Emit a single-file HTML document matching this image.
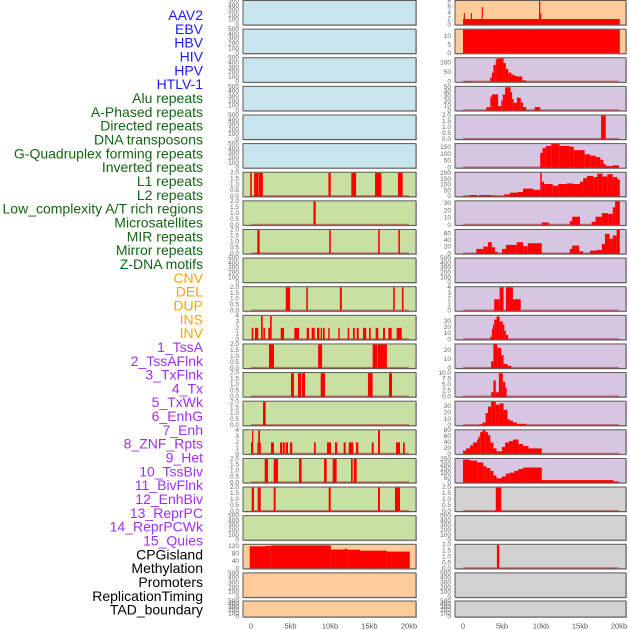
<!DOCTYPE html>
<html><head><meta charset="utf-8"><style>
html,body{margin:0;padding:0;background:#fff;}
svg{display:block;font-family:"Liberation Sans",sans-serif;}
</style></head><body>
<svg id="chart" width="630" height="630" viewBox="0 0 630 630" xmlns="http://www.w3.org/2000/svg">
<g id="labels"></g>
<g id="panels"></g>
<g id="xaxes"></g>
</svg>
<script>
const featureLabels = ["AAV2","EBV","HBV","HIV","HPV","HTLV-1","Alu repeats","A-Phased repeats","Directed repeats","DNA transposons","G-Quadruplex forming repeats","Inverted repeats","L1 repeats","L2 repeats","Low_complexity A/T rich regions","Microsatellites","MIR repeats","Mirror repeats","Z-DNA motifs","CNV","DEL","DUP","INS","INV","1_TssA","2_TssAFlnk","3_TxFlnk","4_Tx","5_TxWk","6_EnhG","7_Enh","8_ZNF_Rpts","9_Het","10_TssBiv","11_BivFlnk","12_EnhBiv","13_ReprPC","14_ReprPCWk","15_Quies","CPGisland","Methylation","Promoters","ReplicationTiming","TAD_boundary"];
const labelColors = ["#1a1aff","#1a1aff","#1a1aff","#1a1aff","#1a1aff","#1a1aff","#116611","#116611","#116611","#116611","#116611","#116611","#116611","#116611","#116611","#116611","#116611","#116611","#116611","#ffa500","#ffa500","#ffa500","#ffa500","#ffa500","#a030f0","#a030f0","#a030f0","#a030f0","#a030f0","#a030f0","#a030f0","#a030f0","#a030f0","#a030f0","#a030f0","#a030f0","#a030f0","#a030f0","#a030f0","#000","#000","#000","#000","#000"];
const xTicksKb = [0,5,10,15,20];
const xTickLabels = ["0","5kb","10kb","15kb","20kb"];

// segments: [startKb, endKb, value]
const L6 = [[-0.1,0.1,2],[0.4,0.9,2],[0.95,1.5,2],[9.8,10.1,2],[12.7,13.3,2],[15.7,16.5,2],[18.6,19.2,2]];
const L7 = [[7.9,8.2,2]];
const L8 = [[0.8,1.1,2],[9.9,10.1,2],[16.1,16.3,2],[18.65,18.85,2]];
const L10 = [[4.4,4.95,2],[7.0,7.2,2],[11.25,11.5,2],[18.0,18.2,2],[19.1,19.3,2]];
const L11 = [[0.09,0.29,2],[0.5,0.92,2],[1.27,1.48,4],[1.56,1.77,2],[2.19,2.41,2],[2.41,2.62,4],[3.76,4.18,2],[5.48,6.08,2],[7.05,7.34,2],[7.68,8.06,2],[8.35,8.65,2],[8.82,8.99,2],[9.11,9.33,2],[9.78,9.96,2],[11.05,11.23,2],[12.24,12.44,2],[12.91,13.13,2],[13.38,13.63,2],[14.18,14.59,2],[14.94,15.15,2],[15.78,16.11,2],[16.71,16.96,2],[17.38,17.81,2],[18.44,19.08,2]];
const L12 = [[2.28,2.91,2],[8.5,9.0,2],[15.4,16.0,2],[16.05,17.2,2]];
const L13 = [[5.06,5.44,2],[5.95,6.37,2],[6.46,6.84,2],[8.82,9.37,2],[14.8,15.4,2],[17.47,17.85,2]];
const L14 = [[1.52,1.86,2]];
const L15 = [[0,0.13,2],[0.13,0.29,4],[0.8,0.92,2],[0.92,1.14,4],[1.14,1.23,2],[2.53,2.91,2],[3.67,3.92,2],[4.0,4.27,2],[4.39,4.68,2],[4.94,5.23,2],[7.97,8.19,2],[9.62,10.13,2],[10.63,10.92,2],[11.73,11.99,2],[12.37,12.95,2],[13.29,13.58,2],[15.28,15.53,2],[16.08,16.33,4],[18.35,18.86,2],[19.24,19.46,2]];
const L16 = [[1.73,2.15,2],[2.87,3.42,2],[6.08,6.41,2],[9.24,9.58,2],[10.34,10.84,2],[12.66,12.87,2],[13.0,13.38,2]];
const L17 = [[0.09,0.38,2],[0.85,1.23,2],[2.87,3.12,2],[9.83,10.09,2],[16.08,16.33,2],[18.23,18.86,2]];
const L19 = [[-0.16,1.77,120],[1.77,2.5,122],[2.5,10.1,125],[10.1,11.9,103],[11.9,12.2,107],[12.2,13.8,102],[13.8,17.2,97],[17.2,20.1,92]];

const R0 = [[0,20.1,2],[0.1,0.25,4],[1.0,1.15,4],[2.4,2.55,6],[9.75,9.9,8],[9.9,10.05,4]];
const R1 = [[0,20.1,14.2]];
const R2 = [[0,1.1,5],[3.2,3.5,5],[3.5,3.7,25],[3.7,3.9,50],[3.9,4.2,90],[4.2,4.4,120],[4.4,5.2,125],[5.2,5.5,100],[5.5,5.8,70],[5.8,6.2,50],[6.2,6.6,40],[6.6,7.0,32],[7.0,7.6,30],[7.6,8.1,10]];
const R3 = [[3.0,3.5,8],[3.5,3.7,30],[3.7,4.5,35],[4.5,4.9,10],[4.9,5.1,22],[5.1,5.4,35],[5.4,6.1,50],[6.1,6.3,40],[6.3,6.5,25],[6.5,6.9,17],[6.9,7.4,28],[7.4,7.7,18],[7.7,8.1,8],[9.2,9.9,8]];
const R4 = [[17.7,18.3,2]];
const R5 = [[9.9,10.2,110],[10.2,10.6,145],[10.6,11.3,160],[11.3,12.4,175],[12.4,13.7,160],[13.7,14.2,155],[14.2,15.6,130],[15.6,16.3,100],[16.3,17.0,90],[17.0,17.6,80],[17.6,18.0,60],[18.0,18.3,30],[18.3,19.2,15],[19.2,20.0,20]];
const R6 = [[0,0.9,5],[0.8,1.8,15],[2.1,3.7,15],[3.9,4.3,10],[5.3,6.0,20],[6.0,7.0,35],[7.0,7.7,40],[7.7,9.0,70],[9.0,9.9,60],[9.9,10.1,210],[10.1,10.4,130],[10.4,11.5,110],[11.5,12.2,95],[12.2,13.3,110],[13.3,14.1,115],[14.1,15.0,110],[15.0,15.4,130],[15.4,15.9,160],[15.9,16.7,180],[16.7,17.2,170],[17.2,17.9,200],[17.9,18.5,175],[18.5,19.2,195],[19.2,19.8,170],[19.8,20.1,150]];
const R7 = [[10.1,11.0,4],[13.7,14.0,6],[14.0,15.0,12],[16.5,17.0,5],[17.0,17.8,12],[17.8,18.6,17],[18.6,19.2,16],[19.2,19.5,25],[19.5,20.1,34]];
const R8 = [[1.7,2.6,15],[2.6,3.2,22],[3.2,3.7,35],[3.7,4.1,20],[4.1,4.4,7],[5.0,5.5,15],[5.5,6.9,27],[6.9,7.7,35],[7.7,8.3,23],[8.3,10.1,32],[13.7,14.0,15],[14.0,14.4,25],[14.4,14.9,25],[14.9,15.4,8],[16.3,17.2,10],[17.2,17.8,12],[17.8,18.2,30],[18.2,18.8,60],[18.8,19.2,45],[19.2,19.7,55],[19.7,20.1,72]];
const R10 = [[4.0,4.7,2],[4.7,5.2,4],[5.5,6.4,4],[6.4,7.4,2]];
const R11 = [[3.5,3.7,5],[3.7,3.85,18],[3.85,4.0,25],[4.0,4.3,33],[4.3,4.7,38],[4.7,5.1,30],[5.1,5.3,25],[5.3,5.5,15],[5.5,5.8,8]];
const R12 = [[3.6,3.9,8],[3.9,4.4,27],[4.4,4.9,23],[4.9,5.2,15],[5.2,5.7,5],[5.7,6.2,3]];
const R13 = [[3.6,3.9,2],[3.9,4.2,7],[4.2,4.6,2],[4.6,5.1,10],[5.1,5.4,6.5],[5.4,5.6,4]];
const R14 = [[2.1,2.5,2],[2.5,2.9,5],[2.9,3.2,20],[3.2,3.6,30],[3.6,4.2,38],[4.2,4.7,33],[4.7,5.2,35],[5.2,5.7,25],[5.7,6.0,10],[6.0,6.4,8],[6.4,6.9,5],[6.9,8.1,3]];
const R15 = [[0,0.4,12],[0.4,0.9,20],[0.9,1.3,30],[1.3,1.8,40],[1.8,2.0,50],[2.0,2.2,60],[2.2,2.5,75],[2.5,2.9,82],[2.9,3.2,75],[3.2,3.5,65],[3.5,3.9,40],[3.9,4.3,20],[4.3,5.0,10],[5.0,5.4,25],[5.4,5.9,40],[5.9,6.4,45],[6.4,7.1,50],[7.1,7.7,35],[7.7,8.4,28],[8.4,10.1,20]];
const R16 = [[0,0.9,250],[0.9,1.8,240],[1.8,2.6,220],[2.6,3.0,180],[3.0,3.5,160],[3.5,3.9,130],[3.9,4.3,80],[4.3,5.0,50],[5.0,5.5,70],[5.5,6.0,100],[6.0,6.6,110],[6.6,7.1,130],[7.1,7.7,150],[7.7,10.1,165],[10.1,19.3,30],[19.3,20.0,15]];
const R17 = [[4.2,4.9,2]];
const R19 = [[4.35,4.65,2]];

const BLUE="#c8e4ec", GREEN="#c8e0a2", ORANGE="#fecc9a", PURPLE="#d6c6e2", GRAY="#d2d2d2";
const emptyTicks = ["0","100","200","300","400","500"];
const t02 = ["0.0","0.5","1.0","1.5","2.0"];
const t04 = ["0","1","2","3","4"];
// per-row config: [bg, yMax, tickValues, tickLabels, segments, baseline]
const leftRows = [
 [BLUE,510,[0,100,200,300,400,500],emptyTicks,[],false],
 [BLUE,510,[0,100,200,300,400,500],emptyTicks,[],false],
 [BLUE,510,[0,100,200,300,400,500],emptyTicks,[],false],
 [BLUE,510,[0,100,200,300,400,500],emptyTicks,[],false],
 [BLUE,510,[0,100,200,300,400,500],emptyTicks,[],false],
 [BLUE,510,[0,100,200,300,400,500],emptyTicks,[],false],
 [GREEN,2.05,[0,0.5,1,1.5,2],t02,L6,true],
 [GREEN,2.05,[0,0.5,1,1.5,2],t02,L7,true],
 [GREEN,2.05,[0,0.5,1,1.5,2],t02,L8,true],
 [GREEN,510,[0,100,200,300,400,500],emptyTicks,[],false],
 [GREEN,2.05,[0,0.5,1,1.5,2],t02,L10,true],
 [GREEN,4.1,[0,1,2,3,4],t04,L11,true],
 [GREEN,2.05,[0,0.5,1,1.5,2],t02,L12,true],
 [GREEN,2.05,[0,0.5,1,1.5,2],t02,L13,true],
 [GREEN,2.05,[0,0.5,1,1.5,2],t02,L14,true],
 [GREEN,4.1,[0,1,2,3,4],t04,L15,true],
 [GREEN,2.05,[0,0.5,1,1.5,2],t02,L16,true],
 [GREEN,2.05,[0,0.5,1,1.5,2],t02,L17,true],
 [GREEN,510,[0,100,200,300,400,500],emptyTicks,[],false],
 [ORANGE,131,[0,40,80,120],["0","40","80","120"],L19,false],
 [ORANGE,510,[0,100,200,300,400,500],emptyTicks,[],false],
 [ORANGE,510,[0,100,200,300,400,500],emptyTicks,[],false]
];
const rightRows = [
 [ORANGE,8.2,[0,2,4,6,8],["0","2","4","6","8"],R0,false],
 [ORANGE,14.2,[0,5,10],["0","5","10"],R1,false],
 [PURPLE,128,[0,50,100],["0","50","100"],R2,true],
 [PURPLE,52,[0,10,20,30,40,50],["0","10","20","30","40","50"],R3,true],
 [PURPLE,2.05,[0,0.5,1,1.5,2],t02,R4,true],
 [PURPLE,177,[0,50,100,150],["0","50","100","150"],R5,true],
 [PURPLE,212,[0,50,100,150,200],["0","50","100","150","200"],R6,true],
 [PURPLE,34,[0,10,20,30],["0","10","20","30"],R7,true],
 [PURPLE,73,[0,20,40,60],["0","20","40","60"],R8,true],
 [PURPLE,510,[0,100,200,300,400,500],emptyTicks,[],false],
 [PURPLE,4.1,[0,1,2,3,4],t04,R10,true],
 [PURPLE,40,[0,10,20,30],["0","10","20","30"],R11,true],
 [PURPLE,27.5,[0,10,20],["0","10","20"],R12,true],
 [PURPLE,10.3,[0,2.5,5,7.5,10],["0.0","2.5","5.0","7.5","10.0"],R13,true],
 [PURPLE,38.5,[0,10,20,30],["0","10","20","30"],R14,true],
 [PURPLE,83,[0,20,40,60,80],["0","20","40","60","80"],R15,true],
 [PURPLE,263,[0,50,100,150,200,250],["0","50","100","150","200","250"],R16,true],
 [GRAY,2.05,[0,0.5,1,1.5,2],t02,R17,true],
 [GRAY,510,[0,100,200,300,400,500],emptyTicks,[],false],
 [GRAY,2.05,[0,0.5,1,1.5,2],t02,R19,true],
 [GRAY,510,[0,100,200,300,400,500],emptyTicks,[],false],
 [GRAY,510,[0,100,200,300,400,500],emptyTicks,[],false]
];

const NS="http://www.w3.org/2000/svg";
function mk(tag, attrs, parent){const e=document.createElementNS(NS,tag);for(const k in attrs)e.setAttribute(k,attrs[k]);parent.appendChild(e);return e;}
const sides = [
 {rows:leftRows, x0:243, x1:416, kb0:251, kbScale:7.9, tickX:239, name:'left'},
 {rows:rightRows, x0:455, x1:626, kb0:463, kbScale:7.8, tickX:451, name:'right'}
];
function rowTop(i){return i<21 ? 0.5+i*28.62 : 601;}
function rowH(i){return i<21 ? 24.5 : 16;}

const lg=document.getElementById('labels');
featureLabels.forEach((t,i)=>{
  const el=mk('text',{x:203,y:15+i*13.83,'text-anchor':'end','dominant-baseline':'central','font-size':'14',fill:labelColors[i]},lg);
  el.textContent=t;
  
  
});

const pg=document.getElementById('panels');
sides.forEach(s=>{
  s.rows.forEach((r,i)=>{
    const [bg,yMax,tv,tl,segs,base]=r;
    const top=rowTop(i), h=rowH(i), bot=top+h;
    const xs=kb=>s.kb0+kb*s.kbScale;
    const ys=v=>bot-v/yMax*h;
    const g=mk('g',{},pg);
    
    
    mk('rect',{x:s.x0+1,y:top+1,width:s.x1-s.x0,height:h,fill:'#bbb'},g);
    const bgr=mk('rect',{x:s.x0,y:top,width:s.x1-s.x0,height:h,fill:bg,stroke:'#5a5a5a','stroke-width':1},g);
    
    
    if(base){
      const bl=mk('rect',{x:xs(0),y:bot-1.6,width:xs(20)-xs(0),height:1.6,fill:'rgba(170,40,40,0.55)'},g);
      
      
    }
    segs.forEach(sg=>{
      const x1=Math.max(xs(sg[0]),s.x0+0.5), x2=Math.min(xs(sg[1]),s.x1-0.5);
      const y=Math.max(ys(sg[2]),top+0.5);
      const b=mk('rect',{x:x1,y:y,width:Math.max(x2-x1,0.8),height:bot-0.5-y,fill:'#ff0000'},g);
      
      
    });
    tv.forEach((v,k)=>{
      const t=mk('text',{x:s.tickX,y:ys(v),'text-anchor':'end','dominant-baseline':'central','font-size':'6.5',fill:'#666'},g);
      t.textContent=tl[k];
      
      
    });
  });
});

const xg=document.getElementById('xaxes');
sides.forEach(s=>{
  xTicksKb.forEach((kb,k)=>{
    const t=mk('text',{x:s.kb0+kb*s.kbScale,y:626,'text-anchor':'middle','dominant-baseline':'central','font-size':'7.5',fill:'#555'},xg);
    t.textContent=xTickLabels[k];
    
    
  });
});
</script>
</body></html>
